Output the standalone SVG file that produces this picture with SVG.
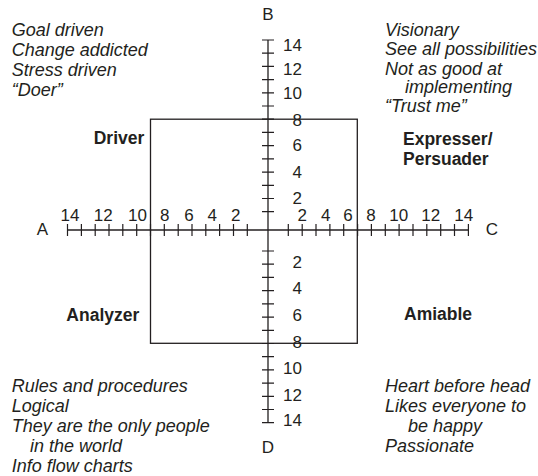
<svg xmlns="http://www.w3.org/2000/svg" width="538" height="476" viewBox="0 0 538 476">
<style>
.ln{stroke:#231f20;stroke-width:1.3;fill:none}
.tk{stroke:#231f20;stroke-width:1.2}
text{font-family:"Liberation Sans",Arial,Helvetica,sans-serif;fill:#231f20}
.it{font-style:italic;font-size:18px}
.bd{font-weight:bold;font-size:17.5px}
.ax{font-size:17px;text-anchor:middle}
.nm{font-size:17px;text-anchor:middle}
.nr{font-size:17px;text-anchor:end}
</style>
<rect width="538" height="476" fill="#fff"/>
<g id="axes">
<line class="ln" x1="67.5" y1="230" x2="468.4" y2="230"/>
<line class="ln" x1="268" y1="40" x2="268" y2="422.7"/>
<g id="ticks-left">
<path class="tk" d="M247.3 224v12M233.5 224v12M219.6 224v12M205.8 224v12M192 224v12M178.2 224v12M164.3 224v12M150.5 224v12M136.7 224v12M122.8 224v12M109 224v12M95.2 224v12M81.4 224v12M67.5 224v12"/>
</g>
<g id="ticks-right">
<path class="tk" d="M288.3 224v12M302.2 224v12M316 224v12M329.9 224v12M343.7 224v12M357.6 224v12M371.4 224v12M385.3 224v12M399.1 224v12M413 224v12M426.8 224v12M440.7 224v12M454.5 224v12M468.4 224v12"/>
</g>
<g id="ticks-top">
<path class="tk" d="M262 211.7h12M262 198.5h12M262 185.3h12M262 172.1h12M262 158.9h12M262 145.7h12M262 132.4h12M262 119.2h12M262 106h12M262 92.8h12M262 79.6h12M262 66.4h12M262 53.2h12M262 40h12"/>
</g>
<g id="ticks-bottom">
<path class="tk" d="M262 251h12M262 264.2h12M262 277.4h12M262 290.6h12M262 303.8h12M262 317.1h12M262 330.3h12M262 343.5h12M262 356.7h12M262 369.9h12M262 383.1h12M262 396.3h12M262 409.5h12M262 422.7h12"/>
</g>
</g>
<g id="box">
<rect class="ln" x="150.5" y="119.2" width="206.8" height="224.1"/>
</g>
<g id="axis-letters">
<text class="ax" x="268" y="20">B</text>
<text class="ax" x="42.5" y="235">A</text>
<text class="ax" x="492" y="235">C</text>
<text class="ax" x="268" y="453">D</text>
</g>
<g id="numbers-horizontal">
<text class="nm" x="70" y="221">14</text>
<text class="nm" x="103.3" y="221">12</text>
<text class="nm" x="137.5" y="221">10</text>
<text class="nm" x="164.7" y="221">8</text>
<text class="nm" x="189" y="221">6</text>
<text class="nm" x="212.3" y="221">4</text>
<text class="nm" x="235.7" y="221">2</text>
<text class="nm" x="302.3" y="221">2</text>
<text class="nm" x="325.7" y="221">4</text>
<text class="nm" x="348" y="221">6</text>
<text class="nm" x="371" y="221">8</text>
<text class="nm" x="398.8" y="221">10</text>
<text class="nm" x="430.8" y="221">12</text>
<text class="nm" x="463.8" y="221">14</text>
</g>
<g id="numbers-vertical">
<text class="nr" x="302" y="51">14</text>
<text class="nr" x="302" y="75.3">12</text>
<text class="nr" x="302" y="99.3">10</text>
<text class="nr" x="302" y="126">8</text>
<text class="nr" x="302" y="151">6</text>
<text class="nr" x="302" y="177.7">4</text>
<text class="nr" x="302" y="204.3">2</text>
<text class="nr" x="302" y="268.3">2</text>
<text class="nr" x="302" y="294.3">4</text>
<text class="nr" x="302" y="321">6</text>
<text class="nr" x="302" y="347.7">8</text>
<text class="nr" x="302" y="373.7">10</text>
<text class="nr" x="302" y="401">12</text>
<text class="nr" x="302" y="426">14</text>
</g>
<g id="driver">
<text class="it" x="11.7" y="36">Goal driven</text>
<text class="it" x="11.7" y="56">Change addicted</text>
<text class="it" x="11.7" y="76">Stress driven</text>
<text class="it" x="11.7" y="96">“Doer”</text>
<text class="bd" x="144.3" y="144" text-anchor="end">Driver</text>
</g>
<g id="expresser">
<text class="it" x="385" y="36">Visionary</text>
<text class="it" x="385" y="55">See all possibilities</text>
<text class="it" x="385" y="74.5">Not as good at</text>
<text class="it" x="405" y="93">implementing</text>
<text class="it" x="385" y="112">“Trust me”</text>
<text class="bd" x="403" y="145">Expresser/</text>
<text class="bd" x="403" y="165">Persuader</text>
</g>
<g id="analyzer">
<text class="bd" x="139.3" y="321" text-anchor="end">Analyzer</text>
<text class="it" x="11.7" y="392">Rules and procedures</text>
<text class="it" x="11.7" y="412">Logical</text>
<text class="it" x="11.7" y="432">They are the only people</text>
<text class="it" x="30" y="452">in the world</text>
<text class="it" x="11.7" y="472">Info flow charts</text>
</g>
<g id="amiable">
<text class="bd" x="404" y="320">Amiable</text>
<text class="it" x="385" y="392">Heart before head</text>
<text class="it" x="385" y="412">Likes everyone to</text>
<text class="it" x="408" y="432">be happy</text>
<text class="it" x="385" y="452">Passionate</text>
</g>
</svg>
